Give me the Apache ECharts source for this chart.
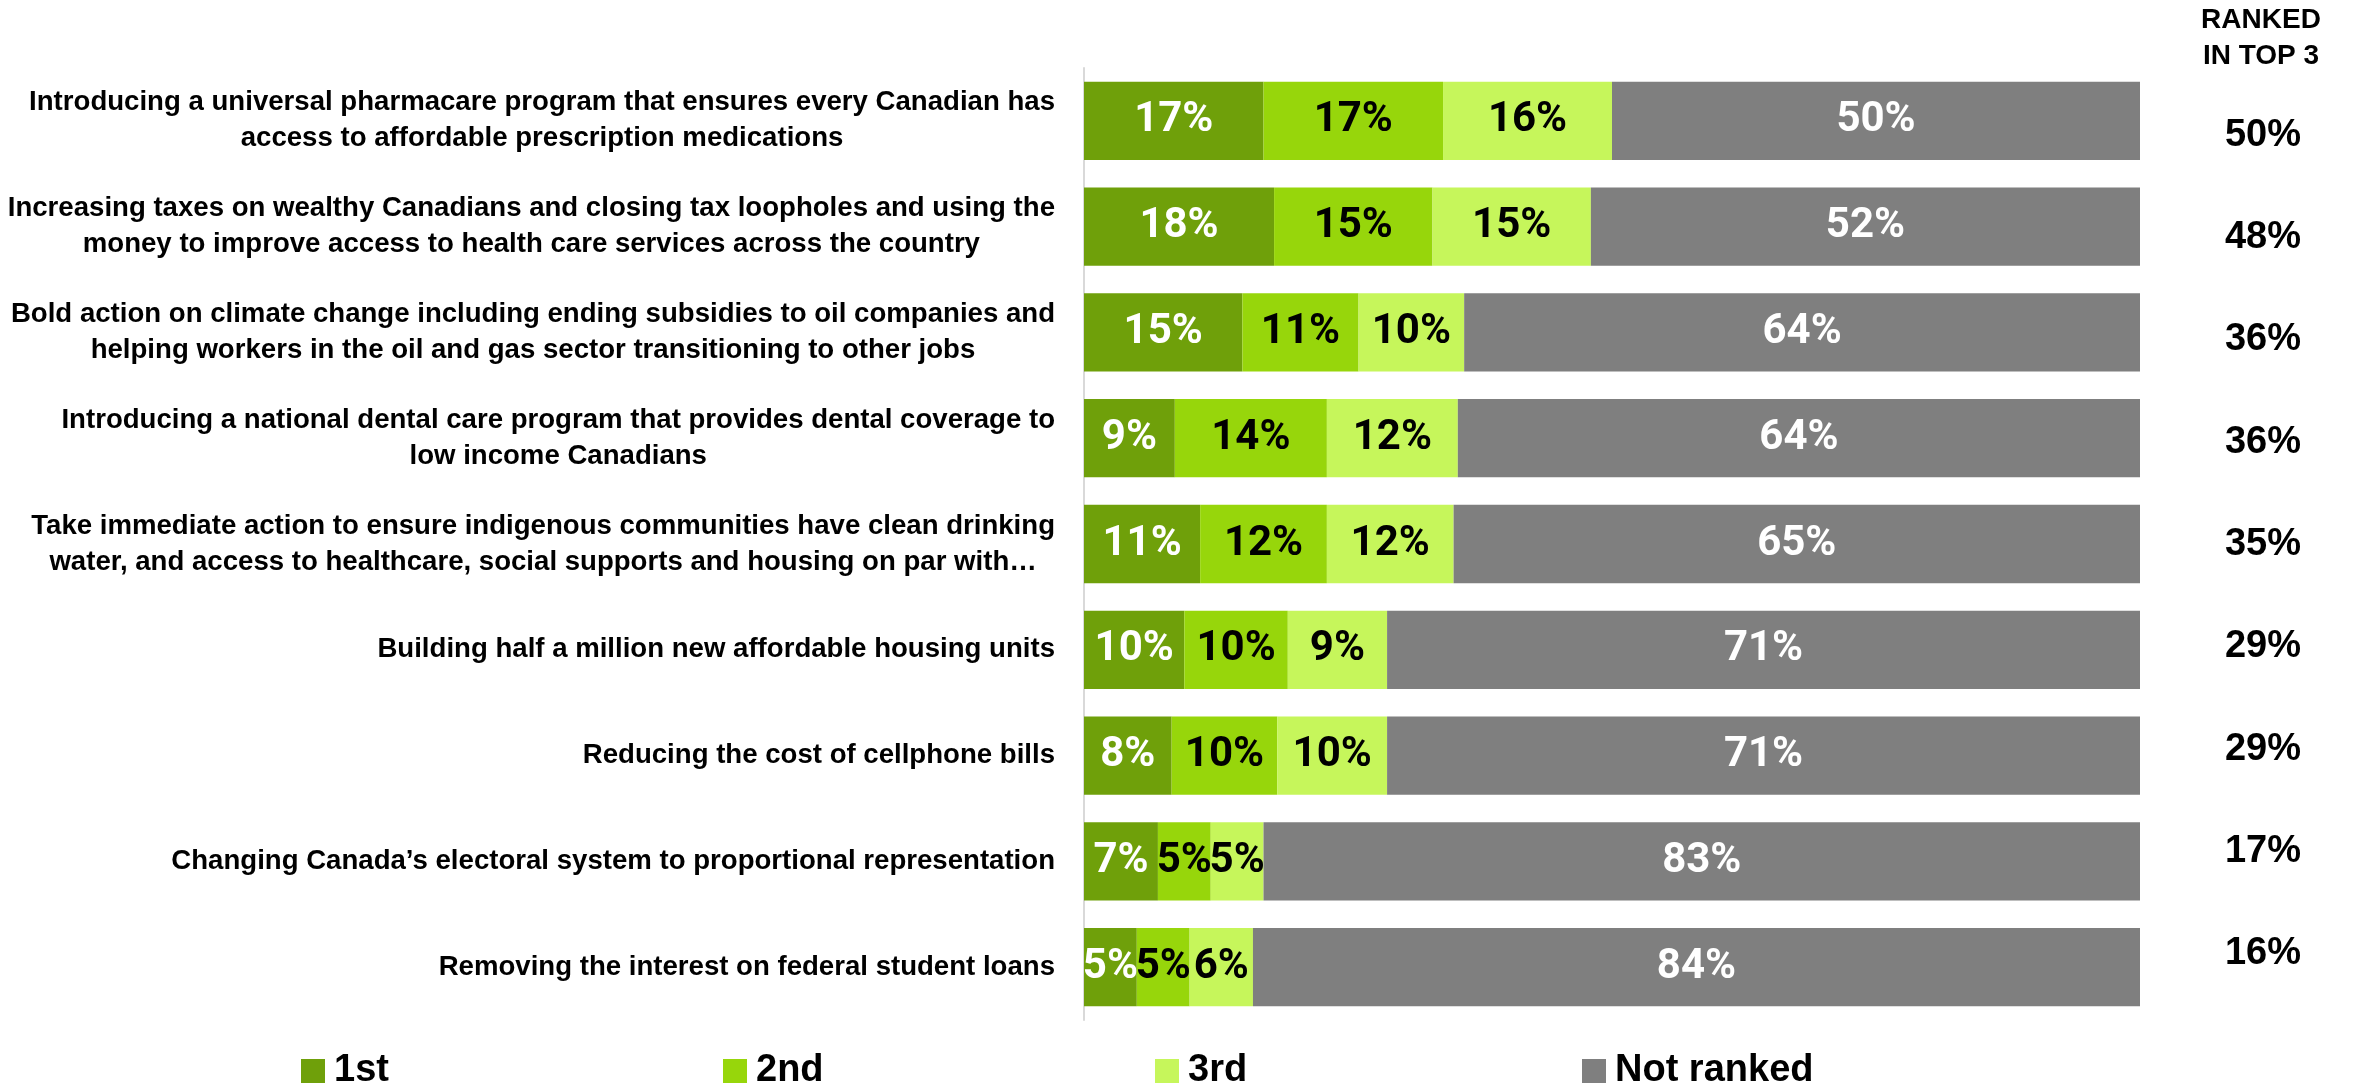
<!DOCTYPE html>
<html><head><meta charset="utf-8">
<script src="https://cdn.jsdelivr.net/npm/echarts@6/dist/echarts.min.js"></script>
<style>html,body{margin:0;padding:0;background:#fff}#c{width:2358px;height:1086px}</style>
</head><body><div id="c"></div>
<script>
const categories = [
  "Introducing a universal pharmacare program that ensures every Canadian has\naccess to affordable prescription medications",
  "Increasing taxes on wealthy Canadians and closing tax loopholes and using the\nmoney to improve access to health care services across the country",
  "Bold action on climate change including ending subsidies to oil companies and\nhelping workers in the oil and gas sector transitioning to other jobs",
  "Introducing a national dental care program that provides dental coverage to\nlow income Canadians",
  "Take immediate action to ensure indigenous communities have clean drinking\nwater, and access to healthcare, social supports and housing on par with\u2026",
  "Building half a million new affordable housing units",
  "Reducing the cost of cellphone bills",
  "Changing Canada\u2019s electoral system to proportional representation",
  "Removing the interest on federal student loans"
];
const seriesNames = ["1st", "2nd", "3rd", "Not ranked"];
// shares as drawn
const first = [17, 18, 15, 8.6, 11, 9.5, 8.3, 7, 5];
const second = [17, 15, 11, 14.4, 12, 9.8, 10.0, 5, 5];
const third = [16, 15, 10, 12.4, 12, 9.4, 10.4, 5, 6];
const notRanked = [50, 52, 64, 64.6, 65, 71.3, 71.3, 83, 84];
// percentages as printed on the bars
const firstShown = [17, 18, 15, 9, 11, 10, 8, 7, 5];
const secondShown = [17, 15, 11, 14, 12, 10, 10, 5, 5];
const thirdShown = [16, 15, 10, 12, 12, 9, 10, 5, 6];
const notRankedShown = [50, 52, 64, 64, 65, 71, 71, 83, 84];
const top3 = [50, 48, 36, 36, 35, 29, 29, 17, 16];
const top3Labels = top3.map(v => v + "%");
const headerText = "RANKED\nIN TOP 3";

const colors = ["#6fa00a", "#97d60b", "#c6f65b", "#7f7f7f"];
const labelColors = ["#ffffff", "#000000", "#000000", "#ffffff"];
const seriesData = [first, second, third, notRanked];
const seriesShown = [firstShown, secondShown, thirdShown, notRankedShown];
const boldFont = "'Liberation Sans', Arial, sans-serif";
const barFont = "Roboto, 'Liberation Sans', sans-serif";

const chart = echarts.init(document.getElementById("c"), null, {renderer: "canvas"});
const legendLefts = [301, 723, 1155, 1582];

const option = {
  backgroundColor: "#ffffff",
  animation: false,
  color: colors,
  title: {
    text: headerText,
    left: 2261,
    top: 2,
    padding: 0,
    textAlign: "center",
    textStyle: {fontFamily: boldFont, fontWeight: "bold", fontSize: 28, lineHeight: 36, color: "#000"}
  },
  legend: seriesNames.map((n, i) => ({
    data: [n],
    left: legendLefts[i],
    top: 1052,
    padding: 0,
    icon: "rect",
    itemWidth: 24,
    itemHeight: 24,
    selectedMode: false,
    textStyle: {fontFamily: boldFont, fontWeight: "bold", fontSize: 38, color: "#000", padding: [0, 0, 0, 4]}
  })),
  grid: [
    {left: 1084, right: 218, top: 68, height: 952, containLabel: false},
    {left: 2263, width: 1, top: 84, height: 921, containLabel: false}
  ],
  xAxis: [
    {type: "value", gridIndex: 0, min: 0, max: 100, show: false},
    {type: "value", gridIndex: 1, min: 0, max: 1, show: false}
  ],
  yAxis: [
    {
      type: "category", gridIndex: 0, data: categories, inverse: true, offset: 1,
      axisLine: {show: true, lineStyle: {color: "#d9d9d9", width: 2}},
      axisTick: {show: false},
      splitLine: {show: false},
      axisLabel: {
        margin: 28,
        formatter: v => v.split("\n").map(l => "{c|" + l + "}").join("\n"),
        rich: {c: {align: "center", fontFamily: boldFont, fontWeight: "bold", fontSize: 27.6, lineHeight: 36, color: "#000"}}
      }
    },
    {
      type: "category", gridIndex: 1, data: top3Labels, inverse: true,
      axisLine: {show: false}, axisTick: {show: false}, splitLine: {show: false},
      axisLabel: {margin: 0, align: "center", fontFamily: boldFont, fontWeight: "bold", fontSize: 38, color: "#000"}
    }
  ],
  series: seriesNames.map((n, i) => ({
    name: n,
    type: "bar",
    stack: "total",
    xAxisIndex: 0,
    yAxisIndex: 0,
    barCategoryGap: "26%",
    data: seriesData[i],
    itemStyle: {color: colors[i]},
    label: {
      show: true,
      position: "inside",
      formatter: p => seriesShown[i][p.dataIndex] + "%",
      fontFamily: barFont,
      fontWeight: "bold",
      fontSize: 42,
      color: labelColors[i],
      textBorderWidth: 0
    }
  }))
};
chart.setOption(option);
</script>
</body></html>
